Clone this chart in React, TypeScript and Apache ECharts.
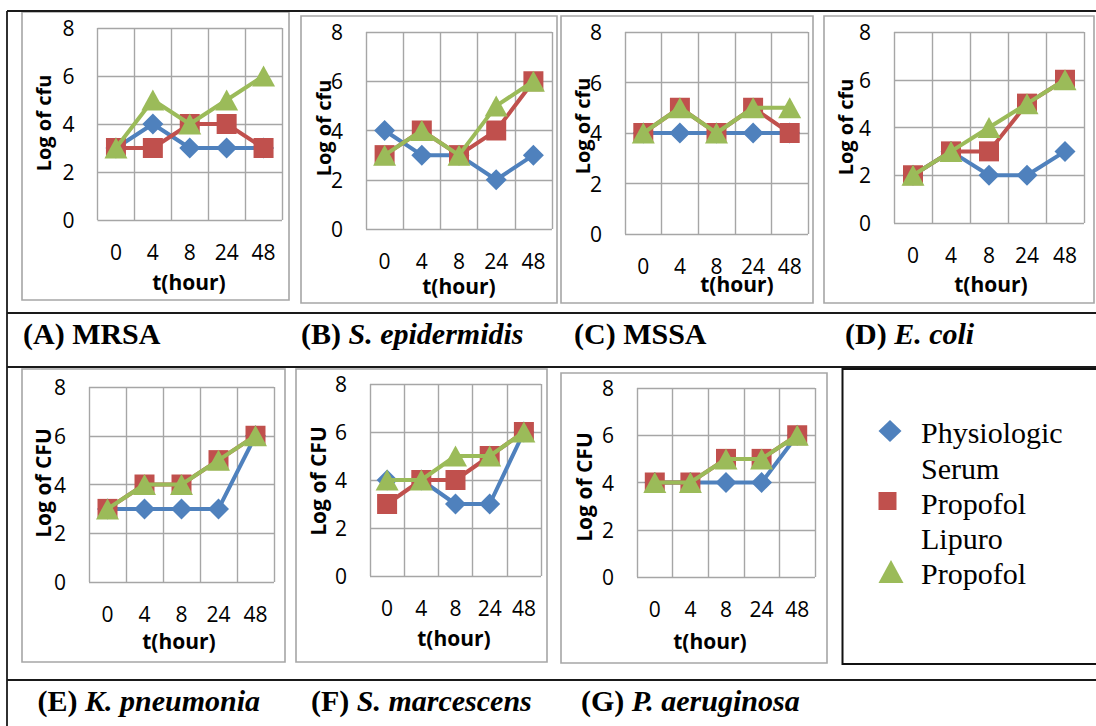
import React, { useEffect, useRef } from "react";
import * as echarts from "echarts";

// ---- data ----
const categories = ["0", "4", "8", "24", "48"];
const seriesNames = ["Physiologic Serum", "Propofol Lipuro", "Propofol"];

const mrsaSerum = [3, 4, 3, 3, 3];
const mrsaLipuro = [3, 3, 4, 4, 3];
const mrsaPropofol = [3, 5, 4, 5, 6];

const epiSerum = [4, 3, 3, 2, 3];
const epiLipuro = [3, 4, 3, 4, 6];
const epiPropofol = [3, 4, 3, 5, 6];

const mssaSerum = [4, 4, 4, 4, 4];
const mssaLipuro = [4, 5, 4, 5, 4];
const mssaPropofol = [4, 5, 4, 5, 5];

const coliSerum = [2, 3, 2, 2, 3];
const coliLipuro = [2, 3, 3, 5, 6];
const coliPropofol = [2, 3, 4, 5, 6];

const kpnSerum = [3, 3, 3, 3, 6];
const kpnLipuro = [3, 4, 4, 5, 6];
const kpnPropofol = [3, 4, 4, 5, 6];

const smaSerum = [4, 4, 3, 3, 6];
const smaLipuro = [3, 4, 4, 5, 6];
const smaPropofol = [4, 4, 5, 5, 6];

const paeSerum = [4, 4, 4, 4, 6];
const paeLipuro = [4, 4, 5, 5, 6];
const paePropofol = [4, 4, 5, 5, 6];

const yMin = 0;
const yMax = 8;
const yInterval = 2;

// ---- layout / style ----
const COLORS = ["#4f81bd", "#c0504d", "#9bbb59"];
const SYMBOLS = ["diamond", "rect", "triangle"];
const SYMBOL_SIZES: any[] = [21, 20, [23, 21]];
const GRID_COLOR = "#a6a6a6";
const SANS = "'Open Sans', 'DejaVu Sans', sans-serif";
const SERIF = "'Liberation Serif', 'Times New Roman', serif";

const panels = [
  { grid: [97.5, 28, 184.5, 192], frame: [22, 12, 289, 300], yName: "Log of cfu", yNameSize: 20, yNamePos: [43, 123], xNamePos: [189, 282], data: [mrsaSerum, mrsaLipuro, mrsaPropofol] },
  { grid: [366, 32, 186, 197], frame: [301, 16, 557, 303], yName: "Log of cfu", yNameSize: 20, yNamePos: [323, 128], xNamePos: [459, 286], data: [epiSerum, epiLipuro, epiPropofol] },
  { grid: [625, 32, 183, 202], frame: [561, 16, 813, 303], yName: "Log of cfu", yNameSize: 20, yNamePos: [582.5, 126], xNamePos: [737, 284], data: [mssaSerum, mssaLipuro, mssaPropofol] },
  { grid: [894, 32, 190, 191], frame: [824, 16, 1094, 303], yName: "Log of cfu", yNameSize: 20, yNamePos: [845, 127], xNamePos: [991, 284], data: [coliSerum, coliLipuro, coliPropofol] },
  { grid: [89, 387, 185, 195], frame: [22, 369, 285, 662], yName: "Log of CFU", yNameSize: 21, yNamePos: [43, 483], xNamePos: [179, 641], data: [kpnSerum, kpnLipuro, kpnPropofol] },
  { grid: [370, 384, 171, 192], frame: [296, 369, 547, 662], yName: "Log of CFU", yNameSize: 21, yNamePos: [318, 481], xNamePos: [454, 638], data: [smaSerum, smaLipuro, smaPropofol] },
  { grid: [637, 388, 178, 189], frame: [561, 373, 827, 663], yName: "Log of CFU", yNameSize: 21, yNamePos: [584, 487], xNamePos: [710, 641], data: [paeSerum, paeLipuro, paePropofol] },
];

const captions = [
  { x: 23, y: 333, lead: "(A) ", name: "MRSA", italic: false },
  { x: 301, y: 333, lead: "(B) ", name: "S. epidermidis", italic: true },
  { x: 574, y: 333, lead: "(C) ", name: "MSSA", italic: false },
  { x: 845, y: 333, lead: "(D) ", name: "E. coli", italic: true },
  { x: 37.5, y: 700, lead: "(E) ", name: "K. pneumonia", italic: true },
  { x: 311, y: 700, lead: "(F) ", name: "S. marcescens", italic: true },
  { x: 581, y: 700, lead: "(G) ", name: "P. aeruginosa", italic: true },
];

function buildOption() {
  const grid: any[] = [];
  const xAxis: any[] = [];
  const yAxis: any[] = [];
  const series: any[] = [];
  const graphic: any[] = [];

  panels.forEach((p, i) => {
    const [l, t, w, h] = p.grid;
    grid.push({ left: l, top: t, width: w, height: h, containLabel: false });
    xAxis.push({
      type: "category",
      gridIndex: i,
      data: categories,
      boundaryGap: true,
      axisLine: { show: false },
      axisTick: { show: false },
      axisLabel: { color: "#000", fontSize: 21, fontFamily: SANS, margin: 21, interval: 0 },
      splitLine: { show: true, lineStyle: { color: GRID_COLOR, width: 1.4 } },
    });
    yAxis.push({
      type: "value",
      gridIndex: i,
      min: yMin,
      max: yMax,
      interval: yInterval,
      axisLine: { show: false },
      axisTick: { show: false },
      axisLabel: { color: "#000", fontSize: 21, fontFamily: SANS, margin: 23 },
      splitLine: { show: true, lineStyle: { color: GRID_COLOR, width: 1.4 } },
    });
    p.data.forEach((vals, k) => {
      series.push({
        type: "line",
        name: seriesNames[k],
        xAxisIndex: i,
        yAxisIndex: i,
        data: vals,
        symbol: SYMBOLS[k],
        symbolSize: SYMBOL_SIZES[k],
        showAllSymbol: true,
        lineStyle: { color: COLORS[k], width: 4 },
        itemStyle: { color: COLORS[k] },
        z: 2 + k,
      });
    });
    const [fx1, fy1, fx2, fy2] = p.frame;
    graphic.push({
      type: "rect",
      shape: { x: fx1, y: fy1, width: fx2 - fx1, height: fy2 - fy1 },
      style: { fill: "none", stroke: GRID_COLOR, lineWidth: 1.6 },
      z: 1,
    });
    graphic.push({
      type: "text",
      x: p.yNamePos[0],
      y: p.yNamePos[1],
      rotation: Math.PI / 2,
      style: {
        text: p.yName,
        fill: "#000",
        fontSize: p.yNameSize,
        fontWeight: "bold",
        fontFamily: SANS,
        align: "center",
        verticalAlign: "middle",
      },
      z: 10,
    });
    graphic.push({
      type: "text",
      x: p.xNamePos[0],
      y: p.xNamePos[1],
      style: {
        text: "t(hour)",
        fill: "#000",
        fontSize: 21,
        fontWeight: "bold",
        fontFamily: SANS,
        align: "center",
        verticalAlign: "middle",
      },
      z: 10,
    });
  });

  // table lines
  const lineStyle = { stroke: "#1a1a1a", lineWidth: 1.8 };
  const hLines = [11, 313, 367, 680];
  hLines.forEach((y) =>
    graphic.push({ type: "line", shape: { x1: 7, y1: y, x2: 1096, y2: y }, style: lineStyle, z: 1 })
  );
  graphic.push({ type: "line", shape: { x1: 7, y1: 11, x2: 7, y2: 726 }, style: lineStyle, z: 1 });

  // captions
  captions.forEach((c) => {
    graphic.push({
      type: "text",
      x: c.x,
      y: c.y,
      style: {
        text: `{b|${c.lead}}{${c.italic ? "i" : "b"}|${c.name}}`,
        align: "left",
        verticalAlign: "middle",
        rich: {
          b: { fontFamily: SERIF, fontSize: 30, fontWeight: "bold", fill: "#000", color: "#000" },
          i: { fontFamily: SERIF, fontSize: 30, fontWeight: "bold", fontStyle: "italic", fill: "#000", color: "#000" },
        },
      },
      z: 10,
    });
  });

  // legend box
  graphic.push({
    type: "rect",
    shape: { x: 842.5, y: 369, width: 270, height: 295 },
    style: { fill: "none", stroke: "#111", lineWidth: 2 },
    z: 1,
  });
  graphic.push({
    type: "polygon",
    shape: { points: [[890, 420], [901.5, 431], [890, 442], [878.5, 431]] },
    style: { fill: COLORS[0] },
    z: 10,
  });
  graphic.push({
    type: "rect",
    shape: { x: 878.5, y: 492, width: 18, height: 18 },
    style: { fill: COLORS[1] },
    z: 10,
  });
  graphic.push({
    type: "polygon",
    shape: { points: [[891, 560], [903.5, 583], [878.5, 583]] },
    style: { fill: COLORS[2] },
    z: 10,
  });
  const legendLines = [
    ["Physiologic", 432],
    ["Serum", 468],
    ["Propofol", 503],
    ["Lipuro", 538],
    ["Propofol", 573],
  ];
  legendLines.forEach(([t, y]) =>
    graphic.push({
      type: "text",
      x: 921,
      y: y as number,
      style: {
        text: t as string,
        fill: "#000",
        fontSize: 30,
        fontFamily: SERIF,
        align: "left",
        verticalAlign: "middle",
      },
      z: 10,
    })
  );

  return {
    animation: false,
    backgroundColor: "#fff",
    grid,
    xAxis,
    yAxis,
    series,
    graphic,
  };
}

export default function App() {
  const ref = useRef<HTMLDivElement>(null);
  useEffect(() => {
    if (!ref.current) return;
    const chart = echarts.init(ref.current, undefined, { renderer: "svg" });
    chart.setOption(buildOption() as any);
    return () => chart.dispose();
  }, []);
  return (
    <div
      ref={ref}
      style={{ position: "absolute", left: 0, top: 0, width: 1096, height: 726, background: "#fff" }}
    />
  );
}
